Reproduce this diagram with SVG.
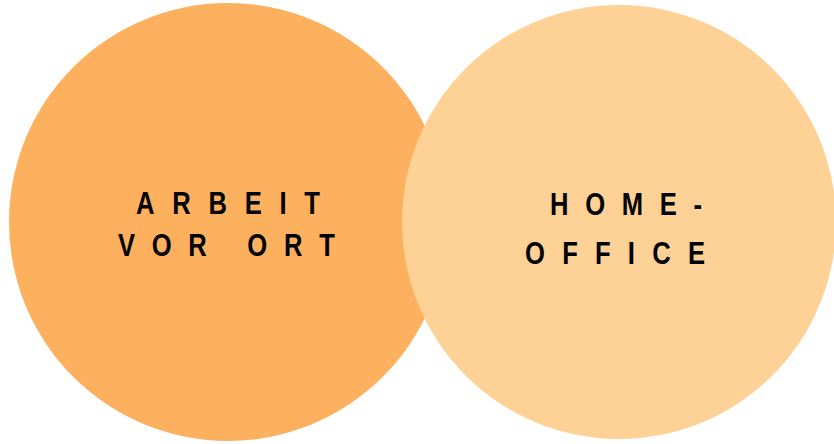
<svg xmlns="http://www.w3.org/2000/svg" width="834" height="444" viewBox="0 0 834 444">
<style>
.lbl{font-family:"Liberation Sans",Arial,sans-serif;font-weight:bold;font-size:32px;fill:#000}
</style>
<rect width="834" height="444" fill="#fff"/>
<g id="node-arbeit">
<circle cx="228" cy="222" r="219" fill="#FDB05E"/>
<text class="lbl" transform="translate(136,214) scale(0.8,1)" textLength="230" lengthAdjust="spacing">ARBEIT</text>
<text class="lbl" transform="translate(118,256) scale(0.8,1)" textLength="271" lengthAdjust="spacing">VOR ORT</text>
</g>
<g id="node-home">
<circle cx="619" cy="222" r="217" fill="#FED196"/>
<text class="lbl" transform="translate(550,215) scale(0.8,1)" textLength="190" lengthAdjust="spacing">HOME-</text>
<text class="lbl" transform="translate(525,264) scale(0.8,1)" textLength="225" lengthAdjust="spacing">OFFICE</text>
</g>
<g id="connectors"></g>
</svg>
